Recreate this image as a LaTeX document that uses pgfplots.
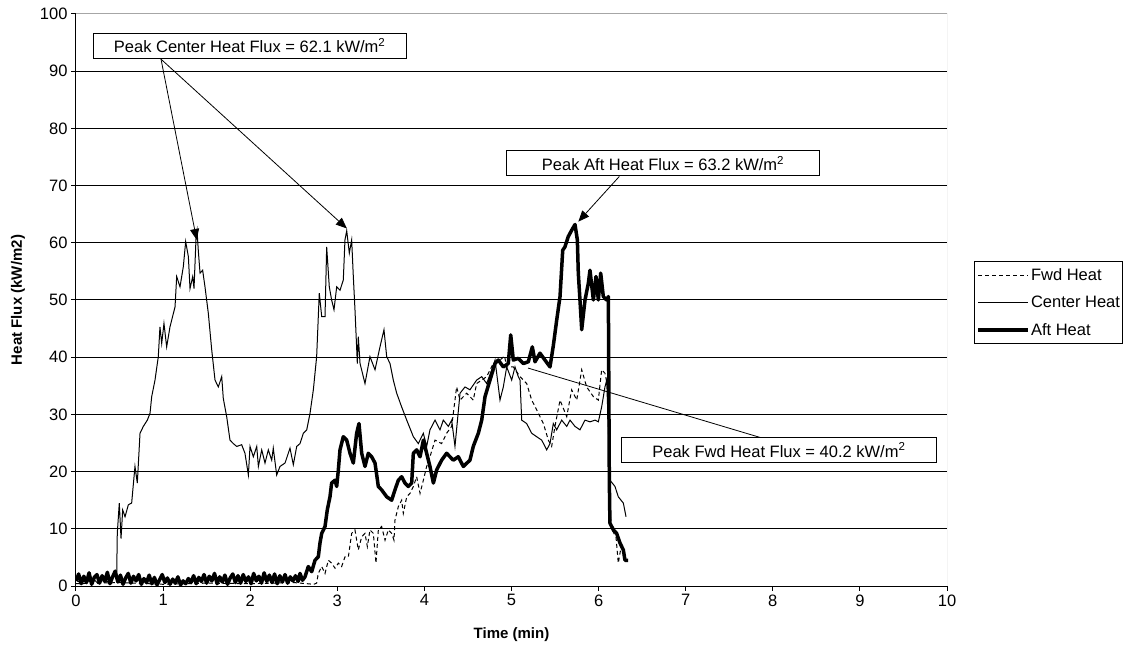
\documentclass[border=0pt]{standalone}
\usepackage{fontspec}
\setmainfont{Liberation Sans}
\usepackage{pgfplots}
\pgfplotsset{compat=1.18}
\usetikzlibrary{arrows.meta}
\newcommand{\fsz}{\fontsize{16.5bp}{19.8bp}\selectfont}
\newcommand{\lsz}{\fontsize{15bp}{18bp}\selectfont}
\begin{document}
\begin{tikzpicture}
\path[use as bounding box] (-76bp,-68bp) rectangle (1051bp,586bp);
\begin{axis}[
  at={(0,0)}, anchor=south west, scale only axis,
  width=871bp, height=572bp,
  xmin=0, xmax=10, ymin=0, ymax=100,
  xtick={0,1,...,10}, ytick={0,10,...,100},
  axis x line*=bottom, axis y line*=left,
  axis line style={black, line width=1bp},
  tick align=outside, major tick length=5bp,
  tick style={black, line width=1bp},
  ymajorgrids, grid style={black, line width=1bp},
  /pgf/number format/assume math mode=true,
  xticklabel style={font=\fsz},
  yticklabel style={font=\fsz},
  xlabel={Time (min)}, ylabel={Heat Flux (kW/m2)},
  xlabel style={font=\lsz\bfseries, at={(axis description cs:0.5,-0.0857)}, anchor=center},
  ylabel style={font=\lsz\bfseries, at={(axis description cs:-0.0666,0.5)}, anchor=center},
  legend style={at={(axis description cs:1.031,0.568)}, anchor=north west,
    draw=black, line width=1bp, fill=white, font=\fsz,
    inner xsep=2bp, inner ysep=0bp,
    nodes={inner xsep=1bp, inner ysep=7bp}},
  legend cell align=left,
  legend image code/.code={\draw[#1] (0bp,0bp) -- (50bp,0bp);},
]
\addplot[black, line width=1bp, dash pattern=on 4bp off 3bp] coordinates {
(0,0.4) (0.5,0.6) (1.0,0.3) (1.5,0.5) (2.0,0.4) (2.5,0.6) (2.73,0.3) (2.763,0.5)
(2.782,2.2) (2.821,3.4) (2.859,2.2) (2.897,4.5) (2.935,4.0) (2.974,3.1) (3.012,4.0)
(3.050,3.4) (3.088,5.1) (3.127,5.1) (3.165,9.2) (3.203,9.8) (3.241,6.3) (3.280,8.6)
(3.318,9.2) (3.345,6.9) (3.375,9.8) (3.414,9.2) (3.444,4.0) (3.471,9.8) (3.509,10.4)
(3.548,8.0) (3.586,9.8) (3.624,9.2) (3.651,8.0) (3.662,11.5) (3.701,13.9) (3.739,15.0)
(3.758,12.7) (3.797,15.6) (3.835,16.2) (3.873,17.4) (3.911,19.1) (3.950,16.2) (3.988,18.5)
(4.026,20.9) (4.064,22.6) (4.122,25.5) (4.198,24.9) (4.255,26.7) (4.313,27.9) (4.370,34.8)
(4.409,32.5) (4.485,33.7) (4.561,32.5) (4.600,35.4) (4.658,36.0) (4.715,36.6) (4.791,38.9)
(4.868,39.5) (4.92,40.2) (4.945,38.3) (5.021,38.3) (5.098,36.6) (5.174,35.4) (5.232,32.5)
(5.289,30.8) (5.366,28.4) (5.423,25.5) (5.461,24.4) (5.499,27.9) (5.557,32.5) (5.634,29.6)
(5.691,34.3) (5.749,32.5) (5.806,37.8) (5.863,34.8) (5.940,33.1) (5.997,32.5) (6.035,37.8)
(6.073,37.2) (6.112,34.3) (6.125,14.0) (6.15,10.0) (6.2,8.5) (6.226,4.0) (6.26,7.0) (6.30,5.0)
};
\addlegendentry{Fwd Heat}
\addplot[black, line width=1bp] coordinates {
(0,1.0) (0.05,0.6) (0.10,1.3) (0.15,0.8) (0.20,1.2) (0.25,0.5) (0.30,1.4) (0.35,0.7)
(0.40,1.1) (0.44,2.0) (0.467,1.6) (0.474,9.2) (0.497,14.5) (0.517,8.3) (0.536,13.3)
(0.563,12.1) (0.601,14.2) (0.639,14.5) (0.677,20.9) (0.704,18.0) (0.735,26.7) (0.773,27.9)
(0.819,29.0) (0.850,30.2) (0.869,33.1) (0.907,36.0) (0.945,40.1) (0.964,45.3) (0.984,42.4)
(1.010,45.9) (1.041,41.8) (1.079,45.3) (1.137,48.8) (1.156,54.1) (1.194,52.3) (1.232,55.8)
(1.259,60.2) (1.290,57.6) (1.309,52.0) (1.340,54.1) (1.355,52.0) (1.378,60.8) (1.39,62.1)
(1.404,58.7) (1.424,54.7) (1.454,55.2) (1.481,52.3) (1.519,47.7) (1.558,41.3) (1.596,36.0)
(1.634,34.8) (1.673,36.6) (1.691,32.8) (1.730,29.6) (1.768,25.5) (1.806,24.9) (1.845,24.4)
(1.902,24.7) (1.940,23.2) (1.979,19.4) (1.998,24.4) (2.036,22.6) (2.075,24.4) (2.094,20.9)
(2.132,23.8) (2.170,21.5) (2.208,23.8) (2.247,22.0) (2.265,24.1) (2.304,19.4) (2.342,20.9)
(2.400,21.5) (2.457,24.1) (2.495,21.2) (2.534,24.4) (2.572,24.9) (2.610,26.7) (2.649,27.3)
(2.687,30.2) (2.725,34.3) (2.763,40.1) (2.793,51.2) (2.821,47.1) (2.859,47.1) (2.878,59.3)
(2.908,52.3) (2.935,50.0) (2.962,48.3) (2.993,52.3) (3.031,51.7) (3.069,53.5) (3.088,60.5)
(3.108,62.1) (3.138,58.2) (3.165,60.5) (3.184,54.1) (3.203,48.3) (3.230,38.9) (3.241,43.6)
(3.261,38.9) (3.318,35.4) (3.375,40.1) (3.433,37.8) (3.490,41.8) (3.536,44.8) (3.567,40.1)
(3.605,38.9) (3.643,36.0) (3.682,33.7) (3.739,31.3) (3.797,29.0) (3.873,26.1) (3.930,24.9)
(3.988,26.7) (4.026,24.4) (4.064,27.3) (4.122,29.0) (4.179,27.3) (4.217,29.0) (4.275,27.9)
(4.313,29.0) (4.351,24.4) (4.409,33.7) (4.466,34.8) (4.523,34.3) (4.600,36.0) (4.658,36.6)
(4.715,35.4) (4.773,37.8) (4.811,39.5) (4.868,32.5) (4.906,34.8) (4.945,38.3) (5.002,36.0)
(5.040,38.3) (5.078,36.6) (5.098,36.0) (5.117,29.0) (5.174,28.4) (5.232,26.7) (5.289,26.1)
(5.347,25.5) (5.404,23.8) (5.442,24.9) (5.48,28.4) (5.519,27.3) (5.576,29.0) (5.634,27.9)
(5.672,29.0) (5.729,27.9) (5.786,27.3) (5.844,29.0) (5.901,28.7) (5.959,29.0) (5.997,28.7)
(6.035,31.3) (6.073,34.8) (6.093,36.0) (6.131,18.5) (6.188,17.4) (6.226,15.6) (6.284,14.5)
(6.315,12.1)
};
\addlegendentry{Center Heat}
\addplot[black, line width=3.5bp, line join=round] coordinates {
(0.00,0.9) (0.03,2.1) (0.06,0.4) (0.09,1.7) (0.12,0.6) (0.15,2.3) (0.18,0.3) (0.21,1.5)
(0.24,2.0) (0.27,0.5) (0.30,1.8) (0.33,0.8) (0.36,2.4) (0.39,0.4) (0.42,1.6) (0.45,2.6)
(0.48,0.7) (0.51,1.9) (0.54,0.3) (0.57,1.4) (0.60,2.2) (0.63,0.5) (0.66,1.7) (0.69,0.9)
(0.72,2.0) (0.75,0.3) (0.78,1.3) (0.81,0.6) (0.84,1.9) (0.87,0.4) (0.90,1.5) (0.93,0.2)
(0.96,1.1) (0.99,2.0) (1.02,0.6) (1.05,1.4) (1.08,0.3) (1.11,1.2) (1.14,0.5) (1.17,1.6)
(1.20,0.2) (1.23,0.9) (1.26,0.4) (1.29,1.3) (1.32,0.6) (1.35,1.8) (1.38,0.4) (1.41,1.5)
(1.44,0.8) (1.47,2.0) (1.50,0.5) (1.53,1.7) (1.56,0.9) (1.59,2.2) (1.62,0.4) (1.65,1.6)
(1.68,0.7) (1.71,1.9) (1.74,0.3) (1.77,1.4) (1.80,2.1) (1.83,0.6) (1.86,1.8) (1.89,0.5)
(1.92,2.0) (1.95,0.8) (1.98,1.6) (2.01,0.4) (2.04,2.2) (2.07,0.9) (2.10,1.7) (2.13,0.5)
(2.16,2.3) (2.19,0.8) (2.22,1.9) (2.25,0.6) (2.28,2.1) (2.31,0.4) (2.34,1.8) (2.37,0.7)
(2.40,2.0) (2.43,0.5) (2.46,1.6) (2.49,0.9) (2.52,1.8) (2.55,0.8) (2.572,2.2) (2.60,1.0)
(2.629,1.6) (2.667,3.4) (2.706,2.5) (2.744,4.5) (2.782,5.1) (2.801,7.5) (2.821,9.2)
(2.859,10.4) (2.885,13.3) (2.916,15.6) (2.935,18.0) (2.974,18.5) (2.993,17.4) (3.012,20.3)
(3.031,23.8) (3.069,26.1) (3.108,25.5) (3.146,23.2) (3.184,21.5) (3.222,26.7) (3.249,28.4)
(3.280,23.2) (3.318,20.9) (3.356,23.2) (3.394,22.6) (3.433,21.5) (3.471,17.4) (3.509,16.8)
(3.567,15.6) (3.624,15.0) (3.662,16.8) (3.701,18.5) (3.739,19.1) (3.777,18.0) (3.815,17.4)
(3.854,18.0) (3.873,23.2) (3.911,23.8) (3.950,22.6) (3.988,25.5) (4.026,23.2) (4.064,20.9)
(4.103,18.0) (4.141,20.3) (4.198,22.0) (4.255,23.2) (4.332,22.0) (4.389,22.6) (4.447,20.9)
(4.523,22.0) (4.561,24.4) (4.619,26.7) (4.658,29.0) (4.696,33.1) (4.753,36.0) (4.811,38.9)
(4.849,39.5) (4.906,38.3) (4.963,38.9) (4.991,43.9) (5.021,39.5) (5.078,39.8) (5.136,38.9)
(5.193,39.2) (5.239,41.8) (5.27,39.2) (5.327,40.7) (5.384,39.5) (5.442,38.3) (5.480,42.0)
(5.519,46.5) (5.557,50.6) (5.588,58.7) (5.614,59.3) (5.652,61.1) (5.691,62.2) (5.729,63.2)
(5.756,60.5) (5.767,54.7) (5.786,50.0) (5.806,44.8) (5.844,50.0) (5.882,52.9) (5.901,55.2)
(5.940,50.0) (5.970,54.1) (5.997,50.0) (6.024,54.7) (6.054,50.6) (6.093,50.0) (6.112,50.6)
(6.123,18.5) (6.13,11.0) (6.17,9.8) (6.207,9.2) (6.246,7.5) (6.284,6.3) (6.303,4.5) (6.34,4.5)
};
\addlegendentry{Aft Heat}
% plot area border (top and right)
\draw[gray!70, line width=1bp] (rel axis cs:0,1) -- (rel axis cs:1,1) -- (rel axis cs:1,0);
% annotations
\draw[black, line width=0.8bp, -{Triangle[length=11bp,width=9bp]}] (axis cs:0.976,92.1) -- (axis cs:1.386,60.5);
\draw[black, line width=0.8bp, -{Triangle[length=11bp,width=9bp]}] (axis cs:0.976,92.1) -- (axis cs:3.11,62.5);
\draw[black, line width=1bp, fill=white] (axis cs:0.199,96.6) rectangle (axis cs:3.789,92.3);
\node[font=\fsz, inner sep=0pt] at (axis cs:1.994,94.45) {Peak Center Heat Flux = 62.1 kW/m\textsuperscript{2}};
\draw[black, line width=0.8bp, -{Triangle[length=11bp,width=9bp]}] (axis cs:6.238,71.6) -- (axis cs:5.767,63.7);
\draw[black, line width=1bp, fill=white] (axis cs:4.945,76.1) rectangle (axis cs:8.534,71.7);
\node[font=\fsz, inner sep=0pt] at (axis cs:6.74,73.9) {Peak Aft Heat Flux = 63.2 kW/m\textsuperscript{2}};
\draw[black, line width=0.8bp] (axis cs:7.87,25.9) -- (axis cs:5.19,38.1);
\draw[black, line width=1bp, fill=white] (axis cs:6.265,25.9) rectangle (axis cs:9.874,21.6);
\node[font=\fsz, inner sep=0pt] at (axis cs:8.07,23.75) {Peak Fwd Heat Flux = 40.2 kW/m\textsuperscript{2}};
\end{axis}
\end{tikzpicture}
\end{document}
